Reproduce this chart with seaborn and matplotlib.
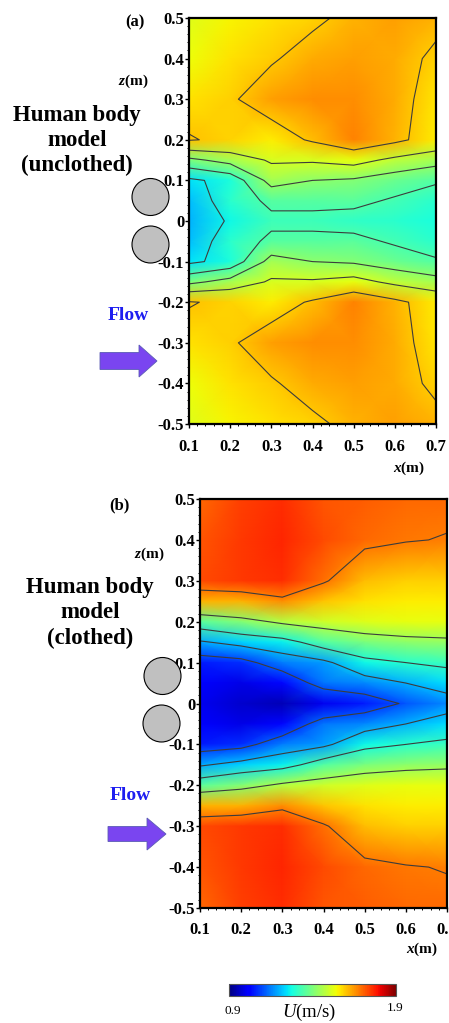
import numpy as np
import matplotlib
matplotlib.use('Agg')
import matplotlib.pyplot as plt
import seaborn as sns
from matplotlib.patches import Circle, FancyArrow
from matplotlib.ticker import MultipleLocator
from matplotlib.cm import ScalarMappable
from matplotlib.colors import Normalize

sns.set_style('ticks')
plt.rcParams['font.family'] = ['Liberation Serif', 'DejaVu Serif']
plt.rcParams['axes.unicode_minus'] = False
plt.rcParams['mathtext.fontset'] = 'custom'
plt.rcParams['mathtext.bf'] = 'Liberation Serif:italic:bold'
plt.rcParams['mathtext.it'] = 'Liberation Serif:italic'
plt.rcParams['mathtext.rm'] = 'Liberation Serif'

# measurement grid
x_pos = [0.1, 0.2, 0.3, 0.4, 0.5, 0.6, 0.7]

# (a) unclothed, U (m/s), rows = z from top to bottom
z_a = [0.5, 0.4, 0.3, 0.2, 0.15, 0.1, 0.05, 0.0,
       -0.05, -0.1, -0.15, -0.2, -0.3, -0.4, -0.5]
u_unclothed = [
    [1.52, 1.55, 1.57, 1.585, 1.62, 1.64, 1.62],
    [1.54, 1.57, 1.592, 1.63, 1.64, 1.63, 1.585],
    [1.57, 1.59, 1.64, 1.66, 1.66, 1.63, 1.565],
    [1.605, 1.585, 1.56, 1.61, 1.67, 1.62, 1.56],
    [1.40, 1.45, 1.51, 1.51, 1.53, 1.48, 1.45],
    [1.245, 1.285, 1.45, 1.42, 1.41, 1.38, 1.35],
    [1.21, 1.30, 1.355, 1.355, 1.36, 1.33, 1.30],
    [1.20, 1.27, 1.325, 1.325, 1.31, 1.30, 1.28],
    [1.21, 1.30, 1.355, 1.355, 1.36, 1.33, 1.30],
    [1.245, 1.285, 1.45, 1.42, 1.41, 1.38, 1.35],
    [1.40, 1.45, 1.51, 1.51, 1.53, 1.48, 1.45],
    [1.605, 1.585, 1.56, 1.61, 1.67, 1.62, 1.56],
    [1.57, 1.59, 1.64, 1.66, 1.66, 1.63, 1.565],
    [1.54, 1.57, 1.592, 1.63, 1.64, 1.63, 1.585],
    [1.52, 1.55, 1.57, 1.585, 1.62, 1.64, 1.62],
]
levels_a = [1.26, 1.34, 1.42, 1.50, 1.60]

# (b) clothed
z_b = [0.5, 0.4, 0.3, 0.25, 0.2, 0.15, 0.1, 0.05, 0.0,
       -0.05, -0.1, -0.15, -0.2, -0.25, -0.3, -0.4, -0.5]
u_clothed = [
    [1.70, 1.74, 1.76, 1.72, 1.71, 1.70, 1.70],
    [1.72, 1.75, 1.77, 1.73, 1.70, 1.685, 1.676],
    [1.73, 1.75, 1.76, 1.69, 1.61, 1.59, 1.59],
    [1.62, 1.62, 1.66, 1.60, 1.57, 1.56, 1.56],
    [1.36, 1.41, 1.47, 1.50, 1.52, 1.53, 1.53],
    [1.19, 1.23, 1.26, 1.35, 1.40, 1.42, 1.43],
    [1.05, 1.07, 1.15, 1.18, 1.27, 1.30, 1.32],
    [1.01, 0.99, 1.03, 1.14, 1.16, 1.20, 1.24],
    [1.00, 0.97, 0.95, 1.00, 1.05, 1.11, 1.16],
    [1.01, 0.99, 1.03, 1.14, 1.16, 1.20, 1.24],
    [1.05, 1.07, 1.15, 1.18, 1.27, 1.30, 1.32],
    [1.19, 1.23, 1.26, 1.35, 1.40, 1.42, 1.43],
    [1.36, 1.41, 1.47, 1.50, 1.52, 1.53, 1.53],
    [1.62, 1.62, 1.66, 1.60, 1.57, 1.56, 1.56],
    [1.73, 1.75, 1.76, 1.69, 1.61, 1.59, 1.59],
    [1.72, 1.75, 1.77, 1.73, 1.70, 1.685, 1.676],
    [1.70, 1.74, 1.76, 1.72, 1.71, 1.70, 1.70],
]
levels_b = [1.10, 1.20, 1.30, 1.45, 1.68]

x_ticks = [0.1, 0.2, 0.3, 0.4, 0.5, 0.6, 0.7]
x_tick_labels = ['0.1', '0.2', '0.3', '0.4', '0.5', '0.6', '0.7']
z_ticks = [-0.5, -0.4, -0.3, -0.2, -0.1, 0.0, 0.1, 0.2, 0.3, 0.4, 0.5]
z_tick_labels = ['-0.5', '-0.4', '-0.3', '-0.2', '-0.1', '0',
                 '0.1', '0.2', '0.3', '0.4', '0.5']
u_min, u_max = 0.9, 1.9

cmap = matplotlib.colormaps['jet']

fig = plt.figure(figsize=(4.49, 10.23), dpi=100)
W, H = 449, 1023


def add_ax(left, top, right, bottom):
    return fig.add_axes([left / W, 1 - bottom / H, (right - left) / W, (bottom - top) / H])


def draw_panel(ax, z, u, levels, xpad):
    X, Z = np.meshgrid(x_pos, z)
    U = np.array(u)
    ax.pcolormesh(X, Z, U, shading='gouraud', cmap=cmap, vmin=u_min, vmax=u_max)
    ax.contour(X, Z, U, levels=levels, colors='#3c3c3c', linewidths=0.8)
    ax.set_xlim(0.1, 0.7)
    ax.set_ylim(-0.5, 0.5)
    ax.set_xticks(x_ticks, x_tick_labels, fontweight='bold')
    ax.set_yticks(z_ticks, z_tick_labels, fontweight='bold')
    ax.xaxis.set_minor_locator(MultipleLocator(0.02))
    ax.yaxis.set_minor_locator(MultipleLocator(0.02))
    ax.tick_params(which='major', direction='out', length=3, width=1, labelsize=12,
                   color='black', labelcolor='black')
    ax.tick_params(axis='x', which='major', pad=xpad)
    ax.tick_params(axis='y', which='major', pad=0.5)
    ax.tick_params(which='minor', direction='out', length=1.5, width=0.7, color='black')
    for s in ax.spines.values():
        s.set_linewidth(1.6)
        s.set_color('black')


ax_a = add_ax(189, 18, 436, 424)
draw_panel(ax_a, z_a, u_unclothed, levels_a, 8)
ax_b = add_ax(200, 499, 447, 908)
draw_panel(ax_b, z_b, u_clothed, levels_b, 7)

cax = add_ax(229, 984, 396, 996)
cb = fig.colorbar(ScalarMappable(norm=Normalize(u_min, u_max), cmap=cmap),
                  cax=cax, orientation='horizontal')
cb.set_ticks([])
cb.outline.set_edgecolor('#555555')
cb.outline.set_linewidth(0.8)

# annotation layer in pixel coordinates
ov = fig.add_axes([0, 0, 1, 1], zorder=10)
ov.set_xlim(0, W)
ov.set_ylim(H, 0)
ov.set_axis_off()

bold = dict(ha='center', va='center', fontweight='bold', color='black')
ov.text(135, 22, '(a)', fontsize=12, **bold)
ov.text(119, 505, '(b)', fontsize=12, **bold)
ov.text(133, 81, r'$\mathbf{z}$(m)', fontsize=11, **bold)
ov.text(149, 554, r'$\mathbf{z}$(m)', fontsize=11, **bold)
ov.text(409, 468, r'$\mathbf{x}$(m)', fontsize=11, **bold)
ov.text(422, 949, r'$\mathbf{x}$(m)', fontsize=11, **bold)

for txt, y in zip(['Human body', 'model', '(unclothed)'], [115, 141, 165]):
    ov.text(77, y, txt, fontsize=16.5, **bold)
for txt, y in zip(['Human body', 'model', '(clothed)'], [587, 613, 638]):
    ov.text(90, y, txt, fontsize=16.5, **bold)

ov.text(128, 316, 'Flow', fontsize=14, ha='center', va='center', fontweight='bold', color='#1e1ef0')
ov.text(130, 795, 'Flow', fontsize=14, ha='center', va='center', fontweight='bold', color='#1e1ef0')

ov.add_patch(FancyArrow(100, 361, 57, 0, width=17, head_width=32, head_length=18,
                        length_includes_head=True, fc='#7a45f0', ec='#5b5bb5', lw=0.6))
ov.add_patch(FancyArrow(108, 834, 58, 0, width=15, head_width=32, head_length=19,
                        length_includes_head=True, fc='#7a45f0', ec='#5b5bb5', lw=0.6))

for cx, cy in [(150.5, 197), (150.5, 244.5), (162.5, 676), (161.5, 723.5)]:
    ov.add_patch(Circle((cx, cy), 18.5, fc='#c0c0c0', ec='black', lw=0.8))

ov.text(233, 1011, '0.9', fontsize=9.5, ha='center', va='center', color='black')
ov.text(395, 1008, '1.9', fontsize=9.5, ha='center', va='center', color='black')
ov.text(309, 1012, r'$U$(m/s)', fontsize=13.5, ha='center', va='center', color='black')

fig.savefig('out.png', dpi=100)
